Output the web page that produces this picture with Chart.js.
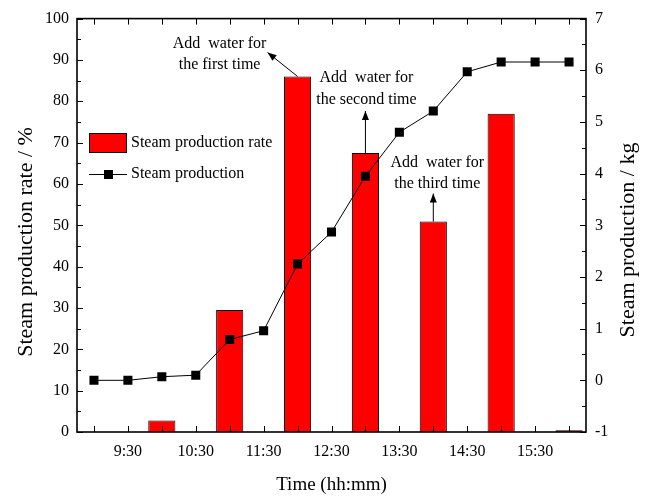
<!DOCTYPE html>
<html>
<head>
<meta charset="utf-8">
<script src="https://cdn.jsdelivr.net/npm/chart.js@4"></script>
<style>
  body { margin: 0; background: #fff; }
  #wrap { width: 651px; height: 498px; }
</style>
</head>
<body>
<div id="wrap"><canvas id="myChart" width="651" height="498"></canvas></div>
<script>
// data
const times = ['9:00','9:30','10:00','10:30','11:00','11:30','12:00','12:30','13:00','13:30','14:00','14:30','15:00','15:30','16:00'];
const rate = [null, null, 2.8, null, 29.5, null, 86, null, 67.5, null, 50.9, null, 77, null, 0.4];   // %
const production = [0, 0, 0.07, 0.1, 0.79, 0.96, 2.25, 2.87, 3.95, 4.8, 5.21, 5.97, 6.16, 6.16, 6.16]; // kg
const rateTicks = [0, 100, 10];
const prodTicks = [-1, 7, 1];

// notes "Add water for ..." pointing at bars
const noteIdx = [6, 8, 10];
const noteText = [['Add  water for', 'the first time'], ['Add  water for', 'the second time'], ['Add  water for', 'the third time']];
// head = arrow tip offset from bar top, txt = first text line offset
const noteOff = [
    {head: [-30, -24], txt: [-78, -33], gap: 21},
    {head: [0, -42], txt: [1, -75], gap: 22},
    {head: [0, -28], txt: [4, -59], gap: 21}
];

const FONT = "'Liberation Serif', 'Times New Roman', serif";

function arrow(ctx, x1, y1, x2, y2){
    ctx.beginPath();
    ctx.moveTo(x1, y1);
    ctx.lineTo(x2, y2);
    ctx.stroke();
    let a = Math.atan2(y2 - y1, x2 - x1);
    let L = 9, W = 3.5;
    ctx.beginPath();
    ctx.moveTo(x2, y2);
    ctx.lineTo(x2 - L*Math.cos(a) + W*Math.sin(a), y2 - L*Math.sin(a) - W*Math.cos(a));
    ctx.lineTo(x2 - L*Math.cos(a) - W*Math.sin(a), y2 - L*Math.sin(a) + W*Math.cos(a));
    ctx.closePath();
    ctx.fill();
}

const extras = {
    id: 'extras',
    afterDraw(chart){
        const ctx = chart.ctx;
        const a = chart.chartArea;
        const sx = chart.scales.x, sy = chart.scales.y, sy1 = chart.scales.y1;
        ctx.save();
        ctx.strokeStyle = '#000';
        ctx.fillStyle = '#000';

        // ticks pointing in
        ctx.lineWidth = 1;
        ctx.beginPath();
        for(let i = 0; i < times.length; i++){
            let x = Math.round(sx.getPixelForValue(i)) + 0.5;
            ctx.moveTo(x, a.bottom); ctx.lineTo(x, a.bottom - 6);
            ctx.moveTo(x, a.top); ctx.lineTo(x, a.top + 6);
        }
        for(let v = rateTicks[0]; v <= rateTicks[1]; v += rateTicks[2]/2){
            let y = Math.round(sy.getPixelForValue(v)) + 0.5;
            let len = (v % rateTicks[2] === 0) ? 6 : 4;
            ctx.moveTo(a.left, y); ctx.lineTo(a.left + len, y);
        }
        for(let v = prodTicks[0]; v <= prodTicks[1]; v += prodTicks[2]/2){
            let y = Math.round(sy1.getPixelForValue(v)) + 0.5;
            let len = (Number.isInteger(v)) ? 6 : 4;
            ctx.moveTo(a.right, y); ctx.lineTo(a.right - len, y);
        }
        ctx.stroke();

        // frame
        ctx.lineWidth = 1.6;
        ctx.strokeRect(a.left, a.top, a.right - a.left, a.bottom - a.top);

        // axis titles
        ctx.textAlign = 'center';
        ctx.textBaseline = 'middle';
        ctx.font = '19px ' + FONT;
        ctx.fillText('Time (hh:mm)', (a.left + a.right)/2, 485);
        ctx.font = '22px ' + FONT;
        ctx.save();
        ctx.translate(26, 242);
        ctx.rotate(-Math.PI/2);
        ctx.fillText('Steam production rate / %', 0, 0);
        ctx.restore();
        ctx.save();
        ctx.translate(628, 240);
        ctx.rotate(-Math.PI/2);
        ctx.fillText('Steam production / kg', 0, 0);
        ctx.restore();

        // notes
        ctx.font = '16px ' + FONT;
        ctx.lineWidth = 1;
        for(let k = 0; k < noteIdx.length; k++){
            let i = noteIdx[k];
            let bx = sx.getPixelForValue(i);
            let by = sy.getPixelForValue(rate[i]);
            let o = noteOff[k];
            arrow(ctx, bx, by, bx + o.head[0], by + o.head[1]);
            ctx.fillText(noteText[k][0], bx + o.txt[0], by + o.txt[1]);
            ctx.fillText(noteText[k][1], bx + o.txt[0], by + o.txt[1] + o.gap);
        }

        // legend
        ctx.textAlign = 'left';
        ctx.fillStyle = '#ff0000';
        ctx.fillRect(89, 133, 38, 20);
        ctx.strokeRect(89.5, 133.5, 37, 19);
        ctx.fillStyle = '#000';
        ctx.fillText('Steam production rate', 131, 143);
        ctx.beginPath();
        ctx.moveTo(89, 174.5); ctx.lineTo(127, 174.5);
        ctx.stroke();
        ctx.fillRect(104, 170, 9, 9);
        ctx.fillText('Steam production', 131, 174);

        ctx.restore();
    }
};

const ctx = document.getElementById('myChart').getContext('2d');
const myChart = new Chart(ctx, {
    data: {
        labels: times,
        datasets: [{
            type: 'line',
            label: 'Steam production',
            data: production,
            yAxisID: 'y1',
            borderColor: '#000',
            backgroundColor: '#000',
            borderWidth: 1,
            pointStyle: 'rect',
            pointRadius: 6.4,
            pointBorderWidth: 0,
            tension: 0,
            order: 0
        }, {
            type: 'bar',
            label: 'Steam production rate',
            data: rate,
            yAxisID: 'y',
            backgroundColor: '#ff0000',
            borderColor: '#000',
            borderWidth: 1,
            barPercentage: 1,
            categoryPercentage: 0.8,
            order: 1
        }]
    },
    options: {
        responsive: false,
        animation: false,
        devicePixelRatio: 1,
        layout: { padding: { top: 17, left: 0, right: 0, bottom: 0 } },
        plugins: {
            legend: { display: false },
            tooltip: { enabled: false }
        },
        scales: {
            x: {
                type: 'category',
                offset: true,
                grid: { display: false, drawTicks: false },
                border: { display: false },
                ticks: {
                    autoSkip: false,
                    maxRotation: 0,
                    padding: 10,
                    color: '#000',
                    font: { family: FONT, size: 16 },
                    callback: function(val, i){ return times[i].endsWith(':30') ? times[i] : ''; }
                },
                afterFit(scale){ scale.height = 66; }
            },
            y: {
                position: 'left',
                min: rateTicks[0],
                max: rateTicks[1],
                grid: { display: false, drawTicks: false },
                border: { display: false },
                ticks: {
                    stepSize: rateTicks[2],
                    padding: 8,
                    color: '#000',
                    font: { family: FONT, size: 16 }
                },
                afterFit(scale){ scale.width = 77; }
            },
            y1: {
                position: 'right',
                min: prodTicks[0],
                max: prodTicks[1],
                grid: { display: false, drawTicks: false },
                border: { display: false },
                ticks: {
                    stepSize: prodTicks[2],
                    padding: 9,
                    color: '#000',
                    font: { family: FONT, size: 16 }
                },
                afterFit(scale){ scale.width = 65; }
            }
        }
    },
    plugins: [extras]
});
</script>
</body>
</html>
